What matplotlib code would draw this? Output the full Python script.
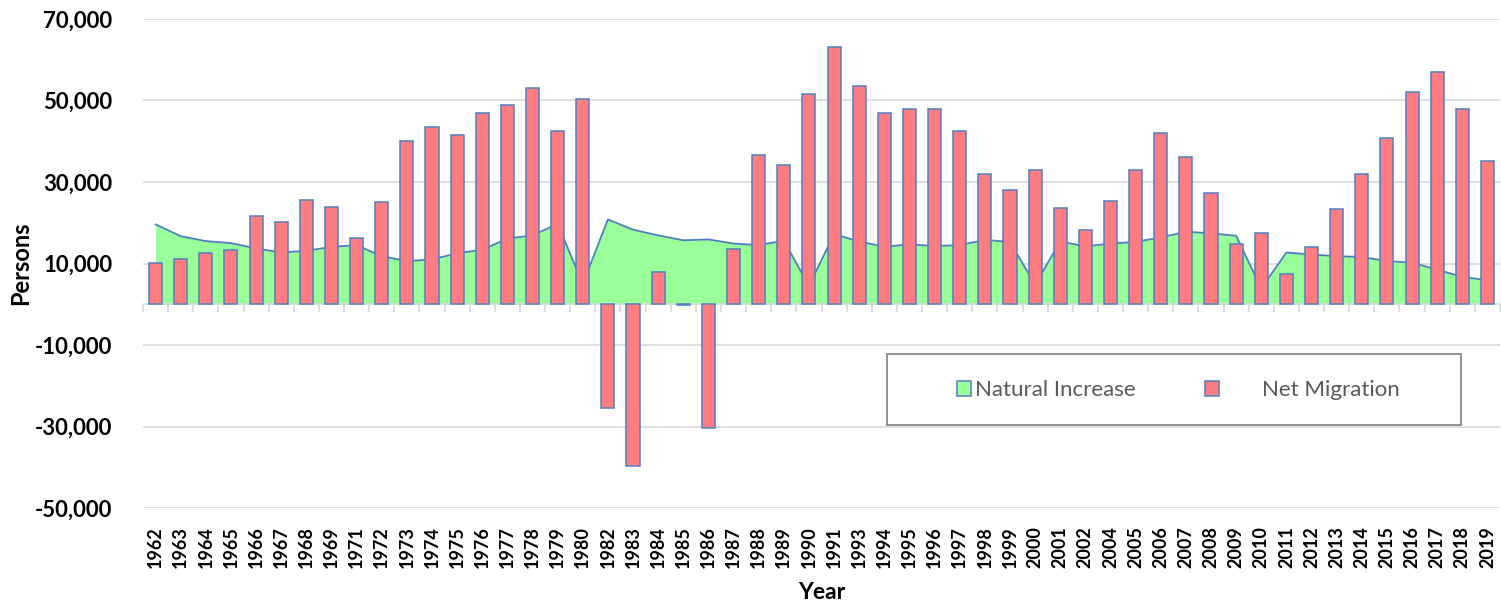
import matplotlib
matplotlib.use("Agg")
import matplotlib.pyplot as plt
from matplotlib.patches import Patch, Rectangle
from matplotlib.ticker import FuncFormatter

plt.rcParams['font.family'] = ['Lato', 'DejaVu Sans']

# data
years = ['1962', '1963', '1964', '1965', '1966', '1967', '1968', '1969',
         '1971', '1972', '1973', '1974', '1975', '1976', '1977', '1978',
         '1979', '1980', '1982', '1983', '1984', '1985', '1986', '1987',
         '1988', '1989', '1990', '1991', '1993', '1994', '1995', '1996',
         '1997', '1998', '1999', '2000', '2001', '2002', '2004', '2005',
         '2006', '2007', '2008', '2009', '2010', '2011', '2012', '2013',
         '2014', '2015', '2016', '2017', '2018', '2019']

natural_increase = [19600, 16700, 15500, 15000, 13700, 12700, 13100, 14100,
                    14500, 11800, 10600, 11000, 12500, 13400, 16100, 16900,
                    19700, 5000, 20800, 18300, 16900, 15700, 15900, 14900,
                    14500, 15600, 4500, 17200, 15400, 14100, 14700, 14300,
                    14500, 15800, 15300, 4800, 15400, 14200, 14900, 15300,
                    16400, 17800, 17400, 16800, 3900, 12700, 12200, 11800,
                    11600, 10600, 10200, 8500, 6700, 5900]

net_migration = [10100, 11200, 12600, 13200, 21600, 20300, 25700, 23800,
                 16200, 25200, 40100, 43400, 41600, 46900, 48900, 53000,
                 42600, 50300, -25400, -39700, 8000, -200, -30300, 13500,
                 36700, 34100, 51600, 63200, 53600, 46900, 48000, 48000,
                 42600, 31900, 28000, 33000, 23700, 18100, 25400, 32900,
                 42100, 36200, 27200, 14900, 17400, 7400, 14000, 23400,
                 31900, 40800, 52100, 57000, 48000, 35200]

y_ticks = [-50000, -30000, -10000, 10000, 30000, 50000, 70000]

green = '#99ff99'
red = '#ff7c80'
blue = '#4f7fc0'
grid = '#d9d9d9'

fig = plt.figure(figsize=(15.01, 6.02), dpi=100)
ax = fig.add_axes([143 / 1501, 94 / 602, 1357 / 1501, 489 / 602])

x = list(range(len(years)))

# area (behind) then columns
ax.fill_between(x, natural_increase, 0, color=green, lw=0, zorder=1)
ax.plot(x, natural_increase, color=blue, lw=1.3, zorder=1.5)
ax.bar(x, net_migration, width=0.52, color=red, edgecolor=blue,
       linewidth=1.1, zorder=3)

ax.set_xlim(-0.5, len(years) - 0.5)
ax.set_ylim(-50000, 70000)
ax.set_yticks(y_ticks)
ax.yaxis.set_major_formatter(FuncFormatter(lambda v, p: f"{v:,.0f}"))
ax.grid(axis='y', color=grid, lw=1.2, zorder=0)
ax.set_axisbelow(True)
ax.axhline(0, color=grid, lw=1.2, zorder=2)

for s in ax.spines.values():
    s.set_visible(False)

ax.set_xticks(x)
ax.set_xticklabels(years, rotation=90, fontsize=13, fontweight='bold')
ax.tick_params(axis='x', length=0, pad=13)
ax.tick_params(axis='y', length=0, pad=22, labelsize=16)
for t in ax.get_yticklabels():
    t.set_fontweight('bold')

# category tick marks hanging off the zero line
zero_pos = 50000 / 120000
sec = ax.secondary_xaxis(zero_pos)
sec.set_xticks([i - 0.5 for i in range(len(years) + 1)])
sec.set_xticklabels([])
sec.tick_params(axis='x', length=6, width=1.2, color=grid)
sec.spines['bottom'].set_visible(False)

ax.set_ylabel('Persons', fontsize=17, fontweight='bold', labelpad=2)
ax.set_xlabel('Year', fontsize=16.5, fontweight='bold', labelpad=10)

# legend box
ax.add_patch(Rectangle((0.548, 0.170), 0.423, 0.145, transform=ax.transAxes,
                       fill=False, edgecolor='#808080', lw=1.2, zorder=5))
leg1 = ax.legend(handles=[Patch(facecolor=green, edgecolor=blue, lw=1.1)],
                 labels=['Natural Increase'], loc='center left',
                 bbox_to_anchor=(0.600, 0.241), frameon=False, fontsize=16,
                 handlelength=0.62, handleheight=0.62, handletextpad=0.2,
                 borderpad=0, borderaxespad=0, labelcolor='#595959')
ax.add_artist(leg1)
ax.legend(handles=[Patch(facecolor=red, edgecolor=blue, lw=1.1)],
          labels=['Net Migration'], loc='center left',
          bbox_to_anchor=(0.7826, 0.241), frameon=False, fontsize=16,
          handlelength=0.62, handleheight=0.62, handletextpad=1.95,
          borderpad=0, borderaxespad=0, labelcolor='#595959')

fig.savefig('out.png', dpi=100)
